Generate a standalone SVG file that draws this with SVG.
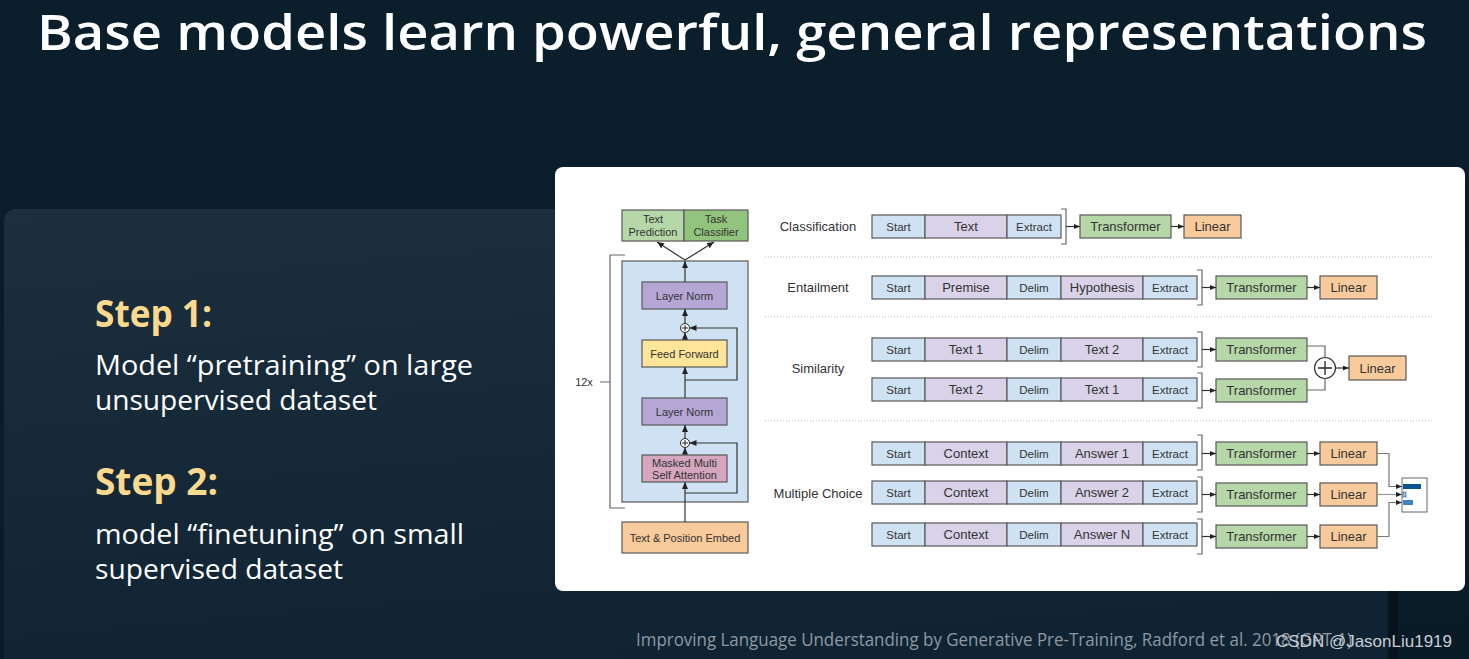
<svg xmlns="http://www.w3.org/2000/svg" width="1469" height="659" viewBox="0 0 1469 659">
<defs>
  <linearGradient id="bg" x1="0" y1="0" x2="0" y2="1">
    <stop offset="0" stop-color="#0b1e2c"/><stop offset="1" stop-color="#0a1b28"/>
  </linearGradient>
  <linearGradient id="panel" x1="0" y1="0" x2="0.25" y2="1">
    <stop offset="0" stop-color="#1b2f3d"/><stop offset="1" stop-color="#102333"/>
  </linearGradient>
  <marker id="ah" markerWidth="7" markerHeight="6" refX="7" refY="3" orient="auto" markerUnits="userSpaceOnUse">
    <path d="M0,0 L7,3 L0,6 z" fill="#222"/>
  </marker>
  <marker id="as" markerWidth="6" markerHeight="5" refX="6" refY="2.5" orient="auto" markerUnits="userSpaceOnUse">
    <path d="M0,0 L6,2.5 L0,5 z" fill="#222"/>
  </marker>
</defs>
<style>
  .box{stroke:#595959;stroke-width:1.2}
  .blue{fill:#cfe2f3}
  .lav{fill:#d9d2e9}
  .grn{fill:#b6d7a8}
  .grn2{fill:#93c47d}
  .org{fill:#f9cb9c}
  .pur{fill:#b4a7d6}
  .yel{fill:#ffe599}
  .pink{fill:#d5a6bd}
  .d{font-family:"Liberation Sans",Arial,sans-serif;fill:#333;text-anchor:middle;dominant-baseline:central}
  .s{font-size:11.5px}
  .m{font-size:13px}
  .x{font-size:11px}
  .ln{fill:none;stroke:#333;stroke-width:1.2}
  .br{fill:none;stroke:#666;stroke-width:1.2}
  .sep{stroke:#bbb;stroke-dasharray:1 2;stroke-width:1}
  .slide{font-family:"Open Sans","Noto Sans","Liberation Sans",sans-serif}
</style>

<!-- background -->
<rect x="0" y="0" width="1469" height="659" fill="url(#bg)"/>
<rect x="4" y="209" width="1386" height="480" rx="12" fill="url(#panel)"/>
<rect x="1388" y="590" width="10" height="69" fill="#07131c"/>
<rect x="555" y="167" width="910" height="424" rx="8" fill="#ffffff"/>

<!-- slide texts -->
<text class="slide" x="37" y="50" font-size="49" font-weight="600" fill="#ffffff" textLength="1390" lengthAdjust="spacingAndGlyphs">Base models learn powerful, general representations</text>
<text class="slide" x="95" y="327" font-size="37" font-weight="bold" fill="#fdd98e" textLength="117" lengthAdjust="spacingAndGlyphs">Step 1:</text>
<text class="slide" x="95" y="375" font-size="28" fill="#ffffff" textLength="378" lengthAdjust="spacingAndGlyphs">Model “pretraining” on large</text>
<text class="slide" x="95" y="410" font-size="28" fill="#ffffff" textLength="282" lengthAdjust="spacingAndGlyphs">unsupervised dataset</text>
<text class="slide" x="95" y="495" font-size="37" font-weight="bold" fill="#fdd98e" textLength="123" lengthAdjust="spacingAndGlyphs">Step 2:</text>
<text class="slide" x="95" y="544" font-size="28" fill="#ffffff" textLength="369" lengthAdjust="spacingAndGlyphs">model “finetuning” on small</text>
<text class="slide" x="95" y="579" font-size="28" fill="#ffffff" textLength="248" lengthAdjust="spacingAndGlyphs">supervised dataset</text>
<text class="slide" x="636" y="646" font-size="18" fill="#8e99a3" textLength="716" lengthAdjust="spacingAndGlyphs">Improving Language Understanding by Generative Pre-Training, Radford et al. 2018 (GPT-1)</text>
<text x="1276" y="647" font-family="'Liberation Sans',Arial,sans-serif" font-size="17" fill="#c8ced3" textLength="176" lengthAdjust="spacingAndGlyphs">CSDN @JasonLiu1919</text>

<!-- ===== Left: transformer architecture ===== -->
<g id="out-text-prediction"><rect class="box grn" x="622" y="210" width="62" height="31"/><text class="d x" x="653" y="219">Text</text><text class="d x" x="653" y="232">Prediction</text></g>
<g id="out-task-classifier"><rect class="box grn2" x="684" y="210" width="64" height="31"/><text class="d x" x="716" y="219">Task</text><text class="d x" x="716" y="232">Classifier</text></g>
<g id="block"><rect class="box" x="622" y="261" width="126" height="241" fill="#cfe2f3" stroke="#333"/></g>
<g id="bracket-12x"><path class="br" d="M625,255 H610 V508 H625 M610,382 H600"/><text class="d x" x="584" y="382">12x</text></g>
<g id="layer-norm-1"><rect class="box pur" x="642" y="282" width="85" height="27"/><text class="d x" x="684.5" y="295.5">Layer Norm</text></g>
<g id="add-1"><circle cx="685" cy="328" r="4.5" fill="#fff" stroke="#222" stroke-width="1"/><path d="M682,328 H688 M685,325 V331" stroke="#222" stroke-width="1"/></g>
<g id="feed-forward"><rect class="box yel" x="642" y="340" width="85" height="27"/><text class="d x" x="684.5" y="353.5">Feed Forward</text></g>
<g id="layer-norm-2"><rect class="box pur" x="642" y="398" width="85" height="27"/><text class="d x" x="684.5" y="411.5">Layer Norm</text></g>
<g id="add-2"><circle cx="685" cy="443" r="4.5" fill="#fff" stroke="#222" stroke-width="1"/><path d="M682,443 H688 M685,440 V446" stroke="#222" stroke-width="1"/></g>
<g id="masked-attention"><rect class="box pink" x="642" y="455" width="85" height="27"/><text class="d x" x="684.5" y="462.5" font-size="10.5">Masked Multi</text><text class="d x" x="684.5" y="474.5" font-size="10.5">Self Attention</text></g>
<g id="embed"><rect class="box org" x="622" y="522" width="126" height="31"/><text class="d x" x="685" y="537.5" font-size="10.8">Text &amp; Position Embed</text></g>

<!-- ===== Right: task rows ===== -->
<g id="separators">
  <line class="sep" x1="765" y1="257" x2="1434" y2="257"/>
  <line class="sep" x1="765" y1="317" x2="1434" y2="317"/>
  <line class="sep" x1="765" y1="421" x2="1434" y2="421"/>
</g>
<g id="labels">
  <text class="d m" x="818" y="226.5">Classification</text>
  <text class="d m" x="818" y="287">Entailment</text>
  <text class="d m" x="818" y="368">Similarity</text>
  <text class="d m" x="818" y="493">Multiple Choice</text>
</g>

<!-- Classification -->
<g id="cls-input">
  <rect class="box blue" x="872" y="215" width="53" height="23"/><text class="d s" x="898.5" y="226.5">Start</text>
  <rect class="box lav" x="925" y="215" width="82" height="23"/><text class="d m" x="966" y="226.5">Text</text>
  <rect class="box blue" x="1007" y="215" width="54" height="23"/><text class="d s" x="1034" y="226.5">Extract</text>
</g>
<g id="cls-transformer"><rect class="box grn" x="1080" y="215" width="91" height="23"/><text class="d m" x="1125.5" y="226.5">Transformer</text></g>
<g id="cls-linear"><rect class="box org" x="1184" y="215" width="57" height="23"/><text class="d m" x="1212.5" y="226.5">Linear</text></g>

<!-- Entailment -->
<g id="ent-input">
  <rect class="box blue" x="872" y="276" width="53" height="23"/><text class="d s" x="898.5" y="287.5">Start</text>
  <rect class="box lav" x="925" y="276" width="82" height="23"/><text class="d m" x="966" y="287.5">Premise</text>
  <rect class="box blue" x="1007" y="276" width="54" height="23"/><text class="d s" x="1034" y="287.5">Delim</text>
  <rect class="box lav" x="1061" y="276" width="82" height="23"/><text class="d m" x="1102" y="287.5">Hypothesis</text>
  <rect class="box blue" x="1143" y="276" width="54" height="23"/><text class="d s" x="1170" y="287.5">Extract</text>
</g>
<g id="ent-transformer"><rect class="box grn" x="1216" y="276" width="91" height="23"/><text class="d m" x="1261.5" y="287.5">Transformer</text></g>
<g id="ent-linear"><rect class="box org" x="1320" y="276" width="57" height="23"/><text class="d m" x="1348.5" y="287.5">Linear</text></g>

<!-- Similarity -->
<g id="sim-input-1">
  <rect class="box blue" x="872" y="338" width="53" height="23"/><text class="d s" x="898.5" y="349.5">Start</text>
  <rect class="box lav" x="925" y="338" width="82" height="23"/><text class="d m" x="966" y="349.5">Text 1</text>
  <rect class="box blue" x="1007" y="338" width="54" height="23"/><text class="d s" x="1034" y="349.5">Delim</text>
  <rect class="box lav" x="1061" y="338" width="82" height="23"/><text class="d m" x="1102" y="349.5">Text 2</text>
  <rect class="box blue" x="1143" y="338" width="54" height="23"/><text class="d s" x="1170" y="349.5">Extract</text>
</g>
<g id="sim-input-2">
  <rect class="box blue" x="872" y="378" width="53" height="23"/><text class="d s" x="898.5" y="389.5">Start</text>
  <rect class="box lav" x="925" y="378" width="82" height="23"/><text class="d m" x="966" y="389.5">Text 2</text>
  <rect class="box blue" x="1007" y="378" width="54" height="23"/><text class="d s" x="1034" y="389.5">Delim</text>
  <rect class="box lav" x="1061" y="378" width="82" height="23"/><text class="d m" x="1102" y="389.5">Text 1</text>
  <rect class="box blue" x="1143" y="378" width="54" height="23"/><text class="d s" x="1170" y="389.5">Extract</text>
</g>
<g id="sim-transformer-1"><rect class="box grn" x="1216" y="338" width="91" height="23"/><text class="d m" x="1261.5" y="349.5">Transformer</text></g>
<g id="sim-transformer-2"><rect class="box grn" x="1216" y="379" width="91" height="23"/><text class="d m" x="1261.5" y="390.5">Transformer</text></g>
<g id="sim-add"><circle cx="1325" cy="368" r="10.5" fill="#fff" stroke="#333" stroke-width="1.2"/><path d="M1318,368 H1332 M1325,361 V375" stroke="#222" stroke-width="1.3"/></g>
<g id="sim-linear"><rect class="box org" x="1349" y="356" width="57" height="24"/><text class="d m" x="1377.5" y="368">Linear</text></g>

<!-- Multiple choice -->
<g id="mc-input-1">
  <rect class="box blue" x="872" y="442" width="53" height="23"/><text class="d s" x="898.5" y="453.5">Start</text>
  <rect class="box lav" x="925" y="442" width="82" height="23"/><text class="d m" x="966" y="453.5">Context</text>
  <rect class="box blue" x="1007" y="442" width="54" height="23"/><text class="d s" x="1034" y="453.5">Delim</text>
  <rect class="box lav" x="1061" y="442" width="82" height="23"/><text class="d m" x="1102" y="453.5">Answer 1</text>
  <rect class="box blue" x="1143" y="442" width="54" height="23"/><text class="d s" x="1170" y="453.5">Extract</text>
</g>
<g id="mc-input-2">
  <rect class="box blue" x="872" y="481" width="53" height="23"/><text class="d s" x="898.5" y="492.5">Start</text>
  <rect class="box lav" x="925" y="481" width="82" height="23"/><text class="d m" x="966" y="492.5">Context</text>
  <rect class="box blue" x="1007" y="481" width="54" height="23"/><text class="d s" x="1034" y="492.5">Delim</text>
  <rect class="box lav" x="1061" y="481" width="82" height="23"/><text class="d m" x="1102" y="492.5">Answer 2</text>
  <rect class="box blue" x="1143" y="481" width="54" height="23"/><text class="d s" x="1170" y="492.5">Extract</text>
</g>
<g id="mc-input-3">
  <rect class="box blue" x="872" y="523" width="53" height="23"/><text class="d s" x="898.5" y="534.5">Start</text>
  <rect class="box lav" x="925" y="523" width="82" height="23"/><text class="d m" x="966" y="534.5">Context</text>
  <rect class="box blue" x="1007" y="523" width="54" height="23"/><text class="d s" x="1034" y="534.5">Delim</text>
  <rect class="box lav" x="1061" y="523" width="82" height="23"/><text class="d m" x="1102" y="534.5">Answer N</text>
  <rect class="box blue" x="1143" y="523" width="54" height="23"/><text class="d s" x="1170" y="534.5">Extract</text>
</g>
<g id="mc-transformer-1"><rect class="box grn" x="1216" y="442" width="91" height="23"/><text class="d m" x="1261.5" y="453.5">Transformer</text></g>
<g id="mc-transformer-2"><rect class="box grn" x="1216" y="483" width="91" height="23"/><text class="d m" x="1261.5" y="494.5">Transformer</text></g>
<g id="mc-transformer-3"><rect class="box grn" x="1216" y="525" width="91" height="23"/><text class="d m" x="1261.5" y="536.5">Transformer</text></g>
<g id="mc-linear-1"><rect class="box org" x="1320" y="442" width="57" height="23"/><text class="d m" x="1348.5" y="453.5">Linear</text></g>
<g id="mc-linear-2"><rect class="box org" x="1320" y="483" width="57" height="23"/><text class="d m" x="1348.5" y="494.5">Linear</text></g>
<g id="mc-linear-3"><rect class="box org" x="1320" y="525" width="57" height="23"/><text class="d m" x="1348.5" y="536.5">Linear</text></g>
<g id="mc-output">
  <rect x="1402" y="478" width="25" height="34" fill="#fff" stroke="#666" stroke-width="1"/>
  <rect x="1403" y="484" width="18" height="5" fill="#0b5394"/>
  <rect x="1403" y="492" width="3" height="5" fill="#9fc5e8" stroke="#0b5394" stroke-width="0.6"/>
  <rect x="1403" y="500" width="10" height="5" fill="#3d85c6"/>
</g>

<!-- ===== connectors ===== -->
<g id="connectors">
  <!-- left architecture -->
  <line class="ln" x1="685" y1="522" x2="685" y2="482" marker-end="url(#ah)"/>
  <path class="ln" d="M685,493 H737 V443 H689.5" marker-end="url(#ah)"/>
  <line class="ln" x1="685" y1="455" x2="685" y2="447.5" marker-end="url(#ah)"/>
  <line class="ln" x1="685" y1="438.5" x2="685" y2="425" marker-end="url(#ah)"/>
  <line class="ln" x1="685" y1="398" x2="685" y2="367" marker-end="url(#ah)"/>
  <path class="ln" d="M685,380 H737 V328 H689.5" marker-end="url(#ah)"/>
  <line class="ln" x1="685" y1="340" x2="685" y2="332.5" marker-end="url(#ah)"/>
  <line class="ln" x1="685" y1="323.5" x2="685" y2="309" marker-end="url(#ah)"/>
  <line class="ln" x1="685" y1="282" x2="685" y2="261" marker-end="url(#ah)"/>
  <line class="ln" x1="685" y1="260" x2="657" y2="242" marker-end="url(#ah)"/>
  <line class="ln" x1="685" y1="260" x2="714" y2="242" marker-end="url(#ah)"/>

  <!-- brackets -->
  <path class="br" d="M1061,209 H1066 V244 H1061"/>
  <path class="br" d="M1197,270 H1202 V305 H1197"/>
  <path class="br" d="M1197,332 H1202 V367 H1197"/>
  <path class="br" d="M1197,373 H1202 V408 H1197"/>
  <path class="br" d="M1197,435 H1202 V470 H1197"/>
  <path class="br" d="M1197,477 H1202 V512 H1197"/>
  <path class="br" d="M1197,519 H1202 V554 H1197"/>

  <!-- classification -->
  <line class="ln" x1="1066" y1="226.5" x2="1080" y2="226.5" marker-end="url(#as)"/>
  <line class="ln" x1="1171" y1="226.5" x2="1184" y2="226.5" marker-end="url(#as)"/>
  <!-- entailment -->
  <line class="ln" x1="1202" y1="287.5" x2="1216" y2="287.5" marker-end="url(#as)"/>
  <line class="ln" x1="1307" y1="287.5" x2="1320" y2="287.5" marker-end="url(#as)"/>
  <!-- similarity -->
  <line class="ln" x1="1202" y1="349.5" x2="1216" y2="349.5" marker-end="url(#as)"/>
  <line class="ln" x1="1202" y1="390.5" x2="1216" y2="390.5" marker-end="url(#as)"/>
  <path class="br" d="M1307,346 H1325 V357.5"/>
  <path class="br" d="M1307,390 H1325 V378.5"/>
  <line class="ln" x1="1335.5" y1="368" x2="1349" y2="368" marker-end="url(#as)"/>
  <!-- multiple choice -->
  <line class="ln" x1="1202" y1="453.5" x2="1216" y2="453.5" marker-end="url(#as)"/>
  <line class="ln" x1="1202" y1="494.5" x2="1216" y2="494.5" marker-end="url(#as)"/>
  <line class="ln" x1="1202" y1="536.5" x2="1216" y2="536.5" marker-end="url(#as)"/>
  <line class="ln" x1="1307" y1="453.5" x2="1320" y2="453.5" marker-end="url(#as)"/>
  <line class="ln" x1="1307" y1="494.5" x2="1320" y2="494.5" marker-end="url(#as)"/>
  <line class="ln" x1="1307" y1="536.5" x2="1320" y2="536.5" marker-end="url(#as)"/>
  <path d="M1377,453.5 H1389 V486.5 H1402" fill="none" stroke="#777" stroke-width="1.2" marker-end="url(#as)"/>
  <path d="M1377,494.5 H1402" fill="none" stroke="#999" stroke-width="1.2" marker-end="url(#as)"/>
  <path d="M1377,536.5 H1389 V502.5 H1402" fill="none" stroke="#777" stroke-width="1.2" marker-end="url(#as)"/>
</g>
</svg>
